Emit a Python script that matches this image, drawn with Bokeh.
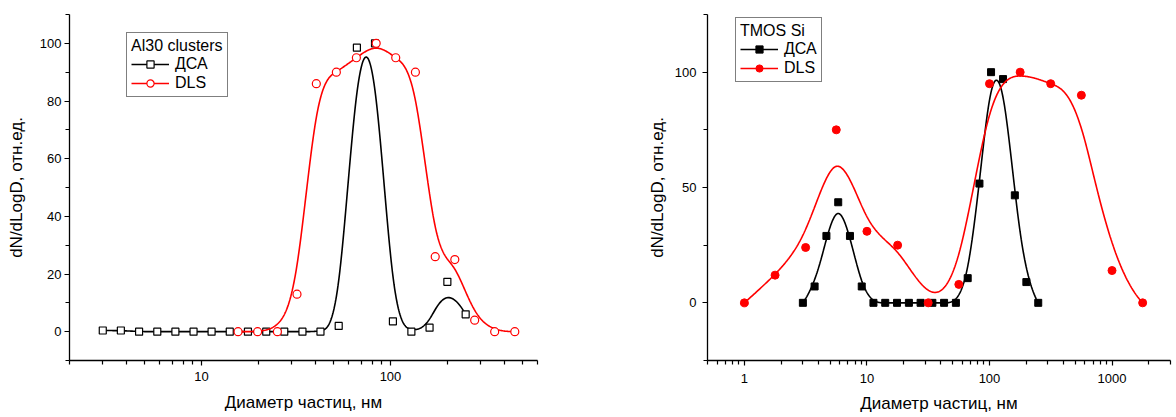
import numpy as np
from bokeh.plotting import figure
from bokeh.models import (Range1d, FixedTicker, PrintfTickFormatter, Legend, LegendItem)
from bokeh.layouts import row
from bokeh.embed import file_html
from bokeh.resources import INLINE

# ---------------- data ----------------
# Left panel: Al30 clusters
al_dsa_d = [3.0, 3.74, 4.67, 5.83, 7.27, 9.07, 11.3, 14.1, 17.6, 22.0, 27.4,
            34.2, 42.6, 53.2, 66.4, 82.8, 103, 129, 161, 200, 250]
al_dsa_v = [0.4, 0.4, 0, 0, 0, 0, 0, 0, 0, 0, 0,
            0, 0, 2, 98.5, 100, 3.6, 0, 1.4, 17.3, 6]
al_dls_d = [15.6, 19.8, 25.2, 32.0, 40.5, 51.7, 66.0, 84.0, 106.6, 135.5,
            172.5, 219, 279, 356, 455]
al_dls_v = [0, 0, 0, 13, 86, 90, 95, 100, 95, 90, 26, 25, 4, 0, 0]

# Right panel: TMOS Si
si_dsa_d = [3.0, 3.74, 4.67, 5.83, 7.27, 9.07, 11.3, 14.1, 17.6, 22.0, 27.4,
            34.2, 42.6, 53.2, 66.4, 82.8, 103, 129, 161, 200, 250]
si_dsa_v = [0, 7.1, 29, 43.6, 29, 7.1, 0, 0, 0, 0, 0,
            0, 0, 0, 10.7, 51.7, 100, 97, 46.6, 9, 0]
si_dls_d = [1, 1.78, 3.16, 5.62, 10, 17.8, 31.6, 56.2, 100, 178, 316, 562,
            1000, 1778]
si_dls_v = [0, 12, 24, 75, 31, 25, 0, 8, 95, 100, 95, 90, 14, 0]

# axis ticks
left_xticks = [10, 100]
left_xminor = [2, 3, 4, 5, 6, 7, 8, 9, 20, 30, 40, 50, 60, 70, 80, 90,
               200, 300, 400, 500, 600]
left_yticks = [0, 20, 40, 60, 80, 100]
left_yminor = [-10, 10, 30, 50, 70, 90, 110]
right_xticks = [1, 10, 100, 1000]
right_xminor = [0.5, 0.6, 0.7, 0.8, 0.9, 2, 3, 4, 5, 6, 7, 8, 9,
                20, 30, 40, 50, 60, 70, 80, 90, 200, 300, 400, 500, 600, 700,
                800, 900, 2000, 3000]
right_yticks = [0, 50, 100]
right_yminor = [-25, 25, 75, 125]

FONT = "Liberation Sans"
XLABEL = "Диаметр частиц, нм"
YLABEL = "dN/dLogD, отн.ед."


def bspline(xs, ys, samples=600):
    """Clamped uniform cubic B-spline (data points as control points),
    computed in log10(x) space, like Origin's B-spline connection."""
    P = np.column_stack([np.log10(np.asarray(xs, float)), np.asarray(ys, float)])
    n = len(P)
    p = 3
    knots = np.concatenate([[0.0] * p, np.arange(n - p + 1, dtype=float), [float(n - p)] * p])
    ts = np.linspace(0, n - p, samples)
    out = []
    for t in ts:
        k = int(np.searchsorted(knots, t, side="right") - 1)
        k = min(max(k, p), n - 1)
        d = [P[j + k - p].copy() for j in range(p + 1)]
        for r in range(1, p + 1):
            for j in range(p, r - 1, -1):
                den = knots[j + 1 + k - r] - knots[j + k - p]
                alpha = 0.0 if den == 0 else (t - knots[j + k - p]) / den
                d[j] = (1.0 - alpha) * d[j - 1] + alpha * d[j]
        out.append(d[p])
    out = np.array(out)
    return 10 ** out[:, 0], out[:, 1]


def style(p, xticks, xminor, yticks, yminor, ylab_standoff, ytick_standoff,
          xtick_standoff, xlab_standoff):
    p.outline_line_color = None
    p.grid.visible = False
    p.xaxis.ticker = FixedTicker(ticks=xticks, minor_ticks=xminor)
    p.yaxis.ticker = FixedTicker(ticks=yticks, minor_ticks=yminor)
    p.xaxis.formatter = PrintfTickFormatter(format="%d")
    p.yaxis.formatter = PrintfTickFormatter(format="%d")
    for ax in (p.xaxis[0], p.yaxis[0]):
        ax.axis_line_color = "black"
        ax.axis_line_width = 1.3
        ax.major_tick_line_color = "black"
        ax.minor_tick_line_color = "black"
        ax.major_tick_line_width = 1.2
        ax.minor_tick_line_width = 1.2
        ax.major_tick_in = 0
        ax.minor_tick_in = 0
        ax.major_tick_out = 5
        ax.minor_tick_out = 4
        ax.major_label_text_font = FONT
        ax.major_label_text_font_size = "13px"
        ax.major_label_text_color = "black"
        ax.axis_label_text_font = FONT
        ax.axis_label_text_font_size = "17px"
        ax.axis_label_text_font_style = "normal"
        ax.axis_label_text_color = "black"
    p.xaxis.axis_label = XLABEL
    p.yaxis.axis_label = YLABEL
    p.yaxis.major_label_standoff = ytick_standoff
    p.yaxis.axis_label_standoff = ylab_standoff
    p.xaxis.major_label_standoff = xtick_standoff
    p.xaxis.axis_label_standoff = xlab_standoff


def add_legend(p, title, items, loc):
    lg = Legend(items=items, title=title, location=loc)
    lg.title_text_font = FONT
    lg.title_text_font_size = "16px"
    lg.title_text_font_style = "normal"
    lg.title_text_color = "black"
    lg.title_standoff = 0
    lg.label_text_font = FONT
    lg.label_text_font_size = "16px"
    lg.label_text_color = "black"
    lg.border_line_color = "black"
    lg.border_line_width = 1
    lg.background_fill_alpha = 1
    lg.glyph_width = 38
    lg.glyph_height = 18
    lg.label_height = 18
    lg.label_standoff = 6
    lg.spacing = 1
    lg.padding = 4
    lg.margin = 0
    p.add_layout(lg)


# ---------------- left panel ----------------
p1 = figure(width=620, height=417, x_axis_type="log",
            x_range=Range1d(2, 600), y_range=Range1d(-10, 110),
            output_backend="svg", toolbar_location=None,
            min_border_left=69, min_border_right=83,
            min_border_top=14, min_border_bottom=57)
style(p1, left_xticks, left_xminor, left_yticks, left_yminor,
      ylab_standoff=11, ytick_standoff=3, xtick_standoff=6, xlab_standoff=9)

bx, by = bspline(al_dsa_d, al_dsa_v)
l1 = p1.line(bx, by, line_color="black", line_width=1.6)
s1 = p1.scatter(al_dsa_d, al_dsa_v, marker="square", size=7, line_color="black",
                fill_color="white", line_width=1.2)
bx, by = bspline(al_dls_d, al_dls_v)
l2 = p1.line(bx, by, line_color="red", line_width=1.6)
s2 = p1.scatter(al_dls_d, al_dls_v, marker="circle", size=8, line_color="red",
                fill_color="white", line_width=1.2)
add_legend(p1, "Al30 clusters",
           [LegendItem(label="ДСА", renderers=[l1, s1]),
            LegendItem(label="DLS", renderers=[l2, s2])], (57, 263))

# ---------------- right panel ----------------
p2 = figure(width=556, height=417, x_axis_type="log",
            x_range=Range1d(0.5, 3000), y_range=Range1d(-25, 125),
            output_backend="svg", toolbar_location=None,
            min_border_left=87, min_border_right=6,
            min_border_top=14, min_border_bottom=53)
style(p2, right_xticks, right_xminor, right_yticks, right_yminor,
      ylab_standoff=5, ytick_standoff=6, xtick_standoff=8, xlab_standoff=8)

bx, by = bspline(si_dsa_d, si_dsa_v)
l3 = p2.line(bx, by, line_color="black", line_width=1.6)
s3 = p2.scatter(si_dsa_d, si_dsa_v, marker="square", size=7, line_color="black",
                fill_color="black")
bx, by = bspline(si_dls_d, si_dls_v)
l4 = p2.line(bx, by, line_color="red", line_width=1.6)
s4 = p2.scatter(si_dls_d, si_dls_v, marker="circle", size=8, line_color="red",
                fill_color="red")
add_legend(p2, "TMOS Si",
           [LegendItem(label="ДСА", renderers=[l3, s3]),
            LegendItem(label="DLS", renderers=[l4, s4])], (28, 278))

layout = row(p1, p2, spacing=0)
open("out.html", "w").write(file_html(layout, INLINE))
